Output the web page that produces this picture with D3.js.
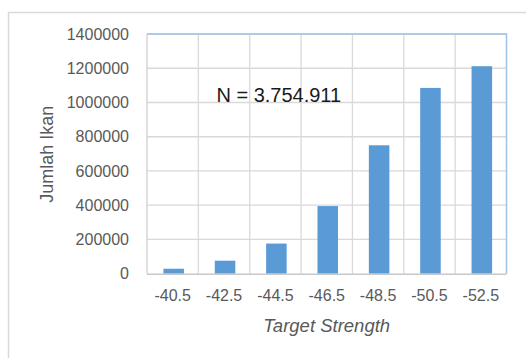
<!DOCTYPE html>
<html>
<head>
<meta charset="utf-8">
<script src="https://cdn.jsdelivr.net/npm/d3@7"></script>
<style>
  html, body { margin: 0; padding: 0; background: #fff; }
  svg { display: block; }
  text { font-family: "Liberation Sans", Arial, sans-serif; }
</style>
</head>
<body>
<svg id="chart" width="526" height="358"></svg>
<script>
// Fish counts per target-strength class (dB)
const categories = ["-40.5", "-42.5", "-44.5", "-46.5", "-48.5", "-50.5", "-52.5"];
const fishCounts = [29000, 76000, 176000, 395000, 750000, 1085000, 1212000];
const yTicks = [0, 200000, 400000, 600000, 800000, 1000000, 1200000, 1400000];
const totalLabel = "N = 3.754.911";
const xTitle = "Target Strength";
const yTitle = "Jumlah Ikan";

const svg = d3.select("#chart");
const W = 526, H = 358;
const plot = { left: 147, right: 506.5, top: 34, bottom: 273.7 };

// Chart-area frame (only the top and left edges fall inside the view)
svg.append("path")
  .attr("d", `M8.5,${H + 2} V12.5 H${W + 2}`)
  .attr("fill", "none")
  .attr("stroke", "#d9d9d9")
  .attr("stroke-width", 1.5);

const x = d3.scaleBand()
  .domain(categories)
  .range([plot.left, plot.right])
  .paddingInner(0.6)
  .paddingOuter(0.3);

const y = d3.scaleLinear()
  .domain([0, 1400000])
  .range([plot.bottom, plot.top]);

// Horizontal gridlines
svg.append("g")
  .selectAll("line")
  .data(yTicks.slice(1))
  .join("line")
  .attr("x1", plot.left).attr("x2", plot.right)
  .attr("y1", d => y(d)).attr("y2", d => y(d))
  .attr("stroke", "#d9d9d9")
  .attr("stroke-width", 1.3);

// Vertical gridlines at category boundaries
const bounds = d3.range(1, categories.length).map(i => plot.left + i * (plot.right - plot.left) / categories.length);
svg.append("g")
  .selectAll("line")
  .data(bounds)
  .join("line")
  .attr("x1", d => d).attr("x2", d => d)
  .attr("y1", plot.top).attr("y2", plot.bottom)
  .attr("stroke", "#d9d9d9")
  .attr("stroke-width", 1.3);

// Plot-area border: top and right edges
svg.append("path")
  .attr("d", `M${plot.left},${plot.top} H${plot.right} V${plot.bottom}`)
  .attr("fill", "none")
  .attr("stroke", "#9dc3e6")
  .attr("stroke-width", 1.5);

// Left edge
svg.append("line")
  .attr("x1", plot.left).attr("x2", plot.left)
  .attr("y1", plot.top).attr("y2", plot.bottom)
  .attr("stroke", "#d0d0d0")
  .attr("stroke-width", 1.3);

// Bars
svg.append("g")
  .selectAll("rect")
  .data(categories.map((c, i) => ({ c, v: fishCounts[i] })))
  .join("rect")
  .attr("x", d => x(d.c) + 1)
  .attr("width", x.bandwidth())
  .attr("y", d => y(d.v))
  .attr("height", d => y(0) - y(d.v))
  .attr("fill", "#5b9bd5");

// Y axis
const yAxis = svg.append("g")
  .attr("transform", `translate(${plot.left},0)`)
  .call(d3.axisLeft(y).tickValues(yTicks).tickFormat(d3.format("d")).tickSize(0).tickPadding(18));
yAxis.select(".domain").remove();
yAxis.selectAll("text")
  .attr("fill", "#595959")
  .style("font-size", "16px")
  .style("font-family", "'Liberation Sans', Arial, sans-serif");

// X axis
const xAxis = svg.append("g")
  .attr("transform", `translate(0,${plot.bottom})`)
  .call(d3.axisBottom(x).tickSize(0).tickPadding(16));
xAxis.select(".domain")
  .attr("stroke", "#c8c8c8")
  .attr("stroke-width", 1.5)
  .attr("d", `M${plot.left},0.5 H${plot.right}`);
xAxis.selectAll("text")
  .attr("fill", "#595959")
  .style("font-size", "16px")
  .style("font-family", "'Liberation Sans', Arial, sans-serif");

// Axis titles
svg.append("text")
  .attr("x", 326.7).attr("y", 332)
  .attr("text-anchor", "middle")
  .attr("fill", "#595959")
  .style("font-size", "18.5px")
  .style("font-style", "italic")
  .text(xTitle);

svg.append("text")
  .attr("transform", "translate(53,154.3) rotate(-90)")
  .attr("text-anchor", "middle")
  .attr("fill", "#595959")
  .style("font-size", "18px")
  .text(yTitle);

// Total count annotation
svg.append("text")
  .attr("x", 216.4).attr("y", 102.3)
  .attr("fill", "#1a1a1a")
  .style("font-size", "20px")
  .text(totalLabel);
</script>
</body>
</html>
